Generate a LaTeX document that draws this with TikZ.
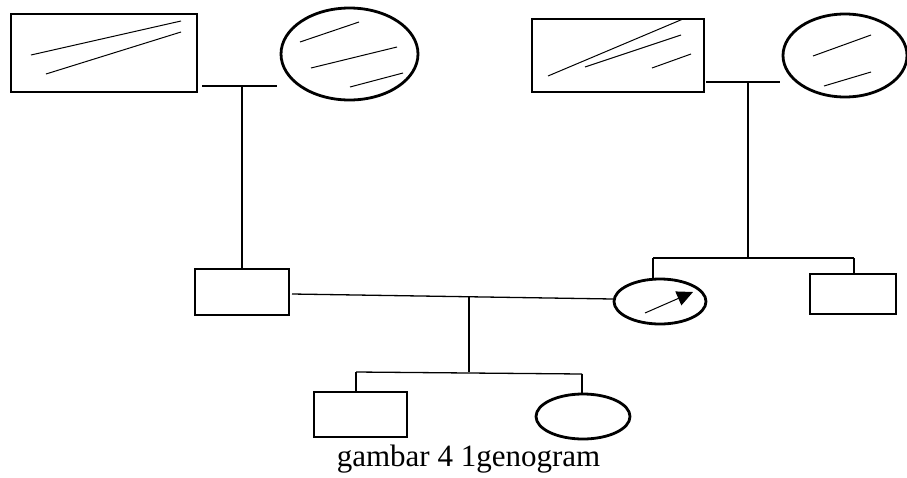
\documentclass[tikz,border=0pt]{standalone}
\usepackage{fontspec}
\setmainfont{Liberation Serif}
\usetikzlibrary{shapes.geometric,arrows.meta}
\begin{document}
\begin{tikzpicture}[x=1pt,y=-1pt,
  malebox/.style={draw,rectangle,line width=2.8pt,inner sep=0pt},
  femaleoval/.style={draw,ellipse,line width=2.8pt,inner sep=0pt},
  link/.style={line width=1.3pt},
  hatch/.style={line width=1pt}]
\useasboundingbox (0,0) rectangle (907,477);
% grandparents left
\node[malebox,minimum width=186pt,minimum height=78pt] (gfl) at (104,53) {};
\node[femaleoval,minimum width=137pt,minimum height=92pt] (gml) at (349.5,54) {};
% grandparents right
\node[malebox,minimum width=172pt,minimum height=73pt] (gfr) at (618,55.5) {};
\node[femaleoval,minimum width=124pt,minimum height=83pt] (gmr) at (845,55.5) {};
% parents and sibling
\node[malebox,minimum width=94pt,minimum height=46pt] (fa) at (242,292) {};
\node[femaleoval,minimum width=92pt,minimum height=45pt] (mo) at (660,301.5) {};
\node[malebox,minimum width=86pt,minimum height=40pt] (un) at (853,294) {};
% children
\node[malebox,minimum width=93pt,minimum height=45pt] (son) at (360.5,414.5) {};
\node[femaleoval,minimum width=94pt,minimum height=45pt] (dau) at (583,416.5) {};
% caption
\node[anchor=base,inner sep=0pt,font=\fontsize{31}{36}\selectfont] (cap) at (468.5,466) {gambar 4 1genogram};

% hatch lines (deceased marks)
\draw[hatch] (31,55) -- (181,21);
\draw[hatch] (46,74) -- (181,32);
\draw[hatch] (300,42) -- (359,22);
\draw[hatch] (311,68) -- (397,47);
\draw[hatch] (350,87) -- (403,73);
\draw[hatch] (548,76) -- (683,19);
\draw[hatch] (585,67) -- (681,35);
\draw[hatch] (652,68) -- (691,54);
\draw[hatch] (813,56) -- (871,35);
\draw[hatch] (824,86) -- (871,72);

% left grandparents marriage and descent
\coordinate (ml1) at (202,86);
\coordinate (ml2) at (277,86);
\coordinate (ml) at (242,86);
\draw[link] (ml1) -- (ml2);
\draw[link] (ml) -- (ml |- fa.north);
% right grandparents marriage and descent
\coordinate (mr1) at (706,82);
\coordinate (mr2) at (780,82);
\coordinate (mr) at (748,82);
\coordinate (sr) at (748,258);
\coordinate (srl) at (653,258);
\coordinate (srr) at (854,258);
\draw[link] (mr1) -- (mr2);
\draw[link] (mr) -- (sr);
\draw[link] (srl) -- (srr);
\draw[link] (srl) -- (srl |- mo.north);
\draw[link] (srr) -- (srr |- un.north);
% parents marriage
\coordinate (pm1) at (292,294);
\coordinate (pm2) at (613,299);
\coordinate (pm) at (469,297);
\draw[link] (pm1) -- (pm2);
\coordinate (cb) at (469,372);
\coordinate (cbl) at (356,372);
\coordinate (cbr) at (582,374);
\draw[link] (pm) -- (cb);
\draw[link] (cbl) -- (cbr);
\draw[link] (cbl) -- (cbl |- son.north);
\draw[link] (cbr) -- (cbr |- dau.north);
% patient arrow
\draw[line width=1pt,-{Triangle[length=16pt,width=15pt]}] (645,313) -- (693,292);
\end{tikzpicture}
\end{document}
